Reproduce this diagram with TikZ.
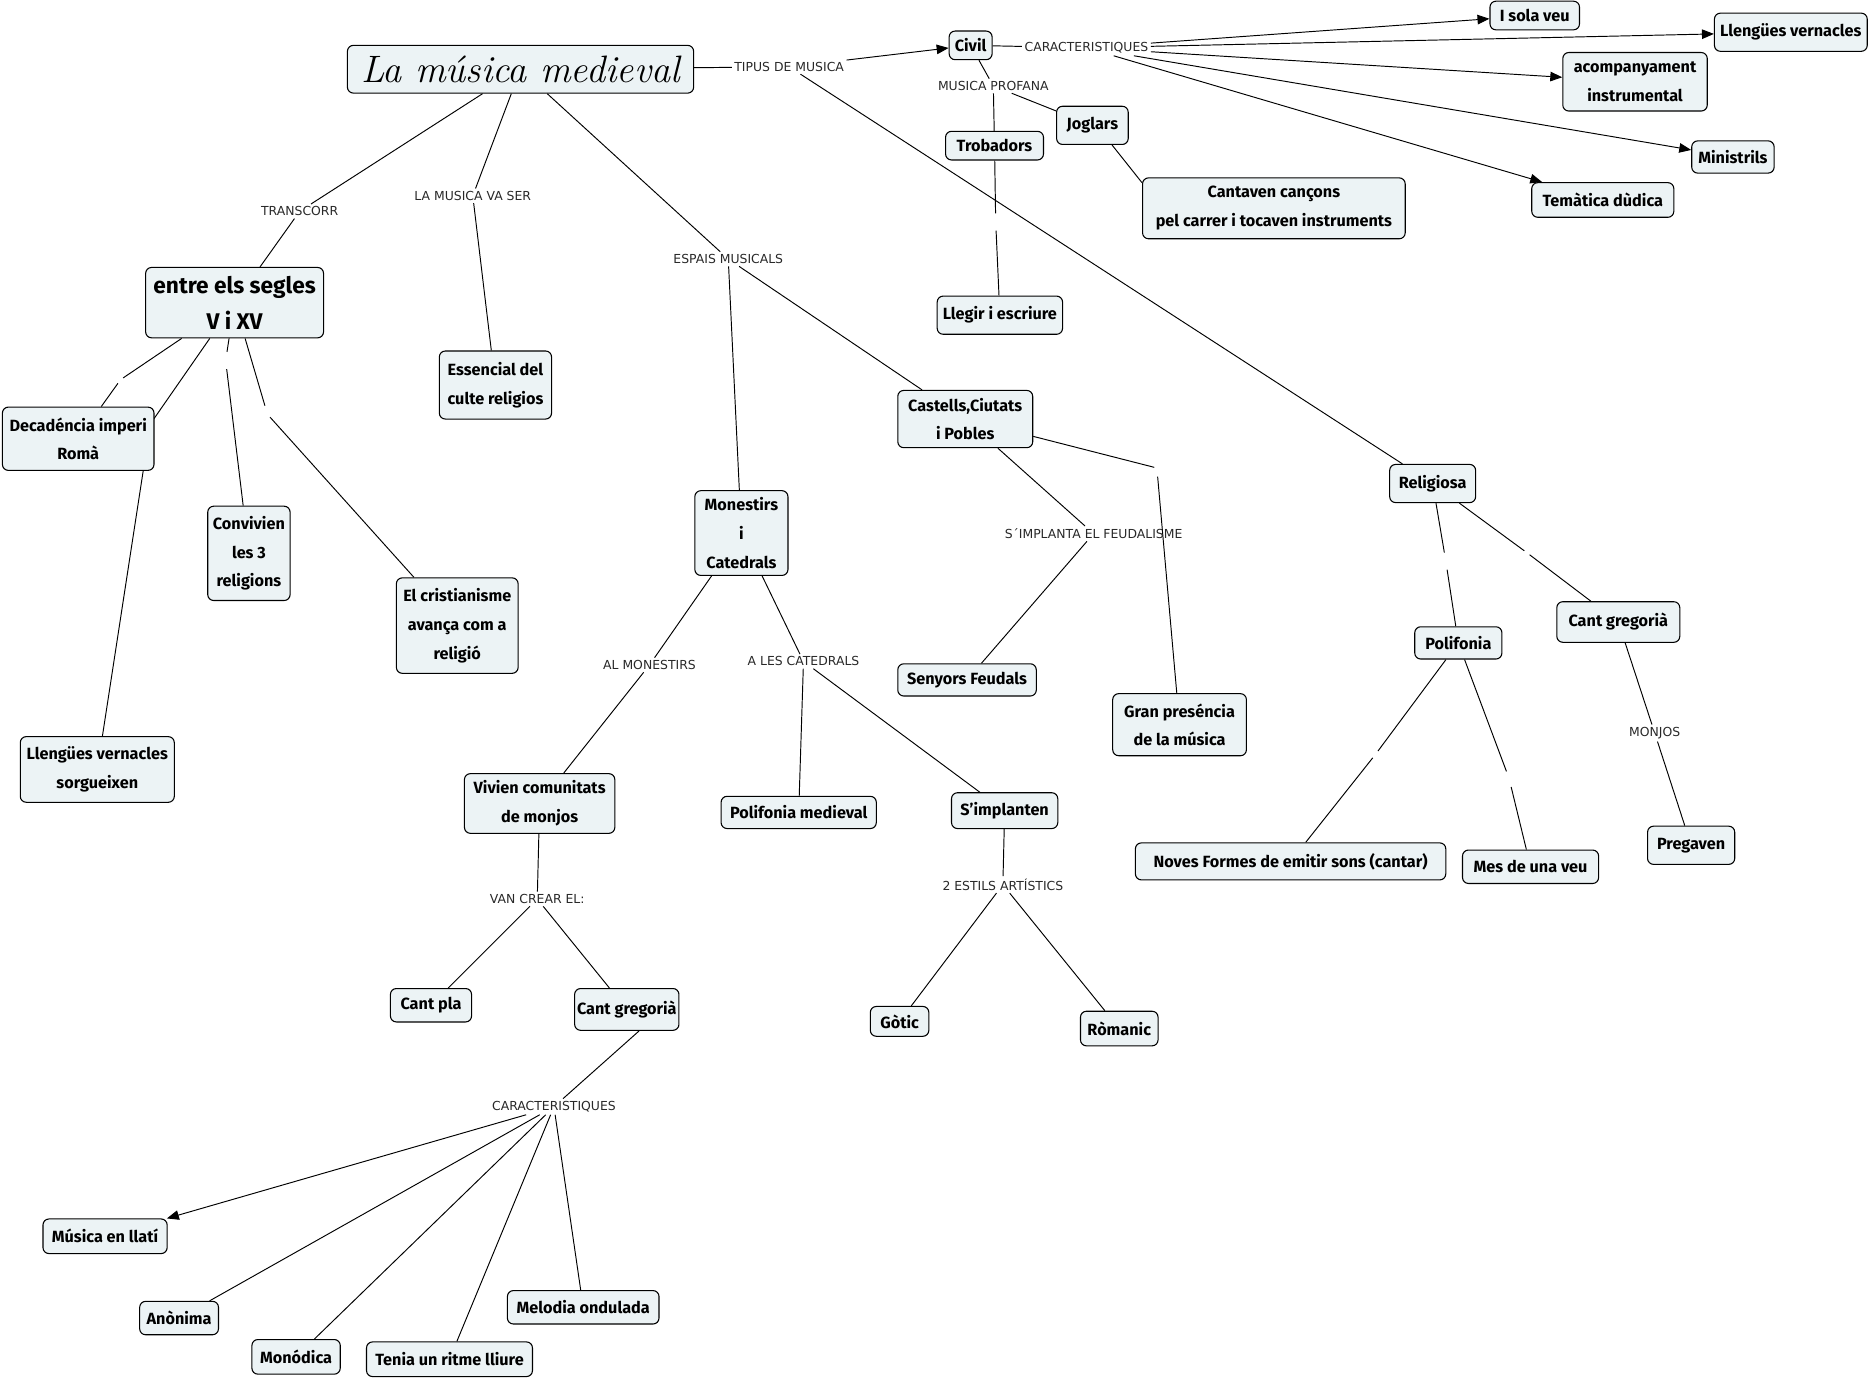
\documentclass[tikz,border=0pt]{standalone}
\usepackage{fontspec}
\newfontfamily\nodefont{Fira Sans}
\newfontfamily\labfont{DejaVu Sans}
\usetikzlibrary{arrows.meta,backgrounds}
\definecolor{boxfill}{RGB}{236,243,245}
\definecolor{labgray}{RGB}{40,40,40}
\begin{document}
\begin{tikzpicture}[x=1pt,y=-1pt,
  concept/.style={draw=black,line width=0.9pt,fill=boxfill,rounded corners=5pt,align=center,inner sep=2pt,
    font={\nodefont\bfseries\fontsize{13.6}{24}\selectfont}},
  bigconcept/.style={concept,font={\nodefont\bfseries\fontsize{19}{30}\selectfont}},
  titlebox/.style={concept,font={\itshape\fontsize{32}{38}\selectfont}},
  lab/.style={inner sep=2pt,font={\labfont\fontsize{10.4}{12}\selectfont},text=labgray},
  blank/.style={inner sep=0pt,minimum width=4pt,minimum height=14pt},
  link/.style={line width=0.8pt,draw=black},
  arr/.style={link,-{Triangle[length=10pt,width=8pt]}}]
\useasboundingbox (0,0) rectangle (1568,1155);

% concepts
\node[titlebox,minimum width=290pt,minimum height=40pt,inner sep=0pt] (title) at (436,58) {La música medieval};
\node[concept,minimum width=36pt,minimum height=24pt] (civil) at (813,38) {Civil};
\node[concept,minimum width=75pt,minimum height=24pt] (sola) at (1285.5,13) {I sola veu};
\node[concept,minimum width=128pt,minimum height=32pt] (llv) at (1500,27) {Llengües vernacles};
\node[concept,minimum width=121pt,minimum height=49pt] (acomp) at (1369.5,68.5) {acompanyament\\instrumental};
\node[concept,minimum width=69pt,minimum height=27pt] (minis) at (1451.5,131.5) {Ministrils};
\node[concept,minimum width=119pt,minimum height=29pt] (tema) at (1342.5,167.5) {Temàtica dùdica};
\node[concept,minimum width=60pt,minimum height=32pt] (jog) at (915,105) {Joglars};
\node[concept,minimum width=82pt,minimum height=24pt] (trob) at (833,122) {Trobadors};
\node[concept,minimum width=220pt,minimum height=51pt] (cant) at (1067,174.5) {Cantaven cançons\\pel carrer i tocaven instruments};
\node[concept,minimum width=105pt,minimum height=32pt] (llegir) at (837.5,264) {Llegir i escriure};
\node[bigconcept,minimum width=149pt,minimum height=59pt] (entre) at (196.5,253.5) {entre els segles\\V i XV};
\node[concept,minimum width=94pt,minimum height=57pt] (essen) at (415,322.5) {Essencial del\\culte religios};
\node[concept,minimum width=127pt,minimum height=53pt] (deca) at (65.5,367.5) {Decadéncia imperi\\Romà};
\node[concept,minimum width=69pt,minimum height=79pt] (conv) at (208.5,463.5) {Convivien\\les 3\\religions};
\node[concept,minimum width=102pt,minimum height=80pt] (crist) at (383,524) {El cristianisme\\avança com a\\religió};
\node[concept,minimum width=129pt,minimum height=55pt] (llsorg) at (81.5,644.5) {Llengües vernacles\\sorgueixen};
\node[concept,minimum width=78pt,minimum height=71pt] (mon) at (621,446.5) {Monestirs\\i\\Catedrals};
\node[concept,minimum width=113pt,minimum height=48pt] (cast) at (808.5,351) {Castells,Ciutats\\i Pobles};
\node[concept,minimum width=116pt,minimum height=27pt] (seny) at (810,569.5) {Senyors Feudals};
\node[concept,minimum width=112pt,minimum height=52pt] (gran) at (988,607) {Gran preséncia\\de la música};
\node[concept,minimum width=72pt,minimum height=32pt] (relig) at (1200,405) {Religiosa};
\node[concept,minimum width=73pt,minimum height=27pt] (polir) at (1221.5,538.5) {Polifonia};
\node[concept,minimum width=103pt,minimum height=34pt] (cgr) at (1355.5,521) {Cant gregorià};
\node[concept,minimum width=260pt,minimum height=31pt] (noves) at (1081,721.5) {Noves Formes de emitir sons (cantar)};
\node[concept,minimum width=114pt,minimum height=28pt] (mes) at (1282,726) {Mes de una veu};
\node[concept,minimum width=73pt,minimum height=32pt] (preg) at (1416.5,708) {Pregaven};
\node[concept,minimum width=126pt,minimum height=50pt] (viv) at (452,673) {Vivien comunitats\\de monjos};
\node[concept,minimum width=130pt,minimum height=27pt] (polm) at (669,680.5) {Polifonia medieval};
\node[concept,minimum width=89pt,minimum height=30pt] (simp) at (841.5,679) {S’implanten};
\node[concept,minimum width=68pt,minimum height=28pt] (cpla) at (361,842) {Cant pla};
\node[concept,minimum width=74pt,minimum height=35pt] (cgb) at (525,845.5) {Cant gregorià};
\node[concept,minimum width=49pt,minimum height=25pt] (gotic) at (753.5,855.5) {Gòtic};
\node[concept,minimum width=65pt,minimum height=29pt] (roman) at (937.5,861.5) {Ròmanic};
\node[concept,minimum width=104pt,minimum height=29pt] (mus) at (88,1035.5) {Música en llatí};
\node[concept,minimum width=66pt,minimum height=28pt] (anon) at (150,1104) {Anònima};
\node[concept,minimum width=74pt,minimum height=29pt] (monod) at (248,1136.5) {Monódica};
\node[concept,minimum width=139pt,minimum height=29pt] (tenia) at (376.5,1138.5) {Tenia un ritme lliure};
\node[concept,minimum width=127pt,minimum height=28pt] (melod) at (488.5,1095) {Melodia ondulada};

% linking phrases
\node[lab] (ltipus) at (661,56) {TIPUS DE MUSICA};
\node[lab] (lcarA) at (910,40) {CARACTERISTIQUES};
\node[lab] (lprof) at (832,72) {MUSICA PROFANA};
\node[lab] (ltrans) at (251,177) {TRANSCORR};
\node[lab] (lvaser) at (396,164) {LA MUSICA VA SER};
\node[lab] (lespais) at (610,217) {ESPAIS MUSICALS};
\node[lab] (lfeud) at (916,447) {S´IMPLANTA EL FEUDALISME};
\node[lab] (lmonjos) at (1386,614) {MONJOS};
\node[lab] (lalmon) at (544,557) {AL MONESTIRS};
\node[lab] (lacat) at (673,554) {A LES CATEDRALS};
\node[lab] (lvan) at (450,753) {VAN CREAR EL:};
\node[lab] (lestils) at (840,741) {2 ESTILS ARTÍSTICS};
\node[lab] (lcarB) at (464,927) {CARACTERISTIQUES};

% empty linking phrases
\node[blank] (bA) at (834,186) {};
\node[blank] (bB) at (101,318) {};
\node[blank] (bC) at (189,302) {};
\node[blank] (bD) at (224,347) {};
\node[blank] (bE) at (1211,470) {};
\node[blank] (bF) at (1279,463) {};
\node[blank] (bG) at (1152,632) {};
\node[blank] (bH) at (1264,652) {};
\node[blank] (bI) at (969,392) {};
\node[blank] (bJ) at (126,355) {};

\begin{pgfonlayer}{background}
\draw[link] (title) -- (ltipus);
\draw[arr] (ltipus) -- (civil);
\draw[link] (ltipus) -- (relig);
\draw[link] (civil) -- (lcarA);
\draw[arr] (lcarA) -- (sola);
\draw[arr] (lcarA) -- (llv);
\draw[arr] (lcarA) -- (acomp);
\draw[arr] (lcarA) -- (minis);
\draw[arr] (lcarA) -- (tema);
\draw[link] (civil) -- (lprof);
\draw[link] (lprof) -- (trob);
\draw[link] (lprof) -- (jog);
\draw[link] (jog.-45) -- (cant.169);
\draw[link] (trob) -- (bA);
\draw[link] (bA) -- (llegir);

\draw[link] (title) -- (ltrans);
\draw[link] (ltrans) -- (entre);
\draw[link] (title) -- (lvaser);
\draw[link] (lvaser) -- (essen);
\draw[link] (title) -- (lespais);
\draw[link] (lespais) -- (mon);
\draw[link] (lespais) -- (cast);

\draw[link] (entre) -- (bB);
\draw[link] (bB) -- (deca);
\draw[link] (entre) -- (bJ);
\draw[link] (bJ) -- (llsorg);
\draw[link] (entre) -- (bC);
\draw[link] (bC) -- (conv);
\draw[link] (entre) -- (bD);
\draw[link] (bD) -- (crist);

\draw[link] (cast) -- (lfeud);
\draw[link] (lfeud) -- (seny);
\draw[link] (cast) -- (bI);
\draw[link] (bI) -- (gran);

\draw[link] (relig) -- (bE);
\draw[link] (bE) -- (polir);
\draw[link] (relig) -- (bF);
\draw[link] (bF) -- (cgr);
\draw[link] (polir) -- (bG);
\draw[link] (bG) -- (noves);
\draw[link] (polir) -- (bH);
\draw[link] (bH) -- (mes);
\draw[link] (cgr) -- (lmonjos);
\draw[link] (lmonjos) -- (preg);

\draw[link] (mon) -- (lalmon);
\draw[link] (lalmon) -- (viv);
\draw[link] (mon) -- (lacat);
\draw[link] (lacat) -- (polm);
\draw[link] (lacat) -- (simp);
\draw[link] (viv) -- (lvan);
\draw[link] (lvan) -- (cpla);
\draw[link] (lvan) -- (cgb);
\draw[link] (simp) -- (lestils);
\draw[link] (lestils) -- (gotic);
\draw[link] (lestils) -- (roman);

\draw[link] (cgb.-60) -- (lcarB);
\draw[arr] (lcarB) -- (mus);
\draw[link] (lcarB) -- (anon);
\draw[link] (lcarB) -- (monod);
\draw[link] (lcarB) -- (tenia);
\draw[link] (lcarB) -- (melod);
\end{pgfonlayer}
\end{tikzpicture}
\end{document}
